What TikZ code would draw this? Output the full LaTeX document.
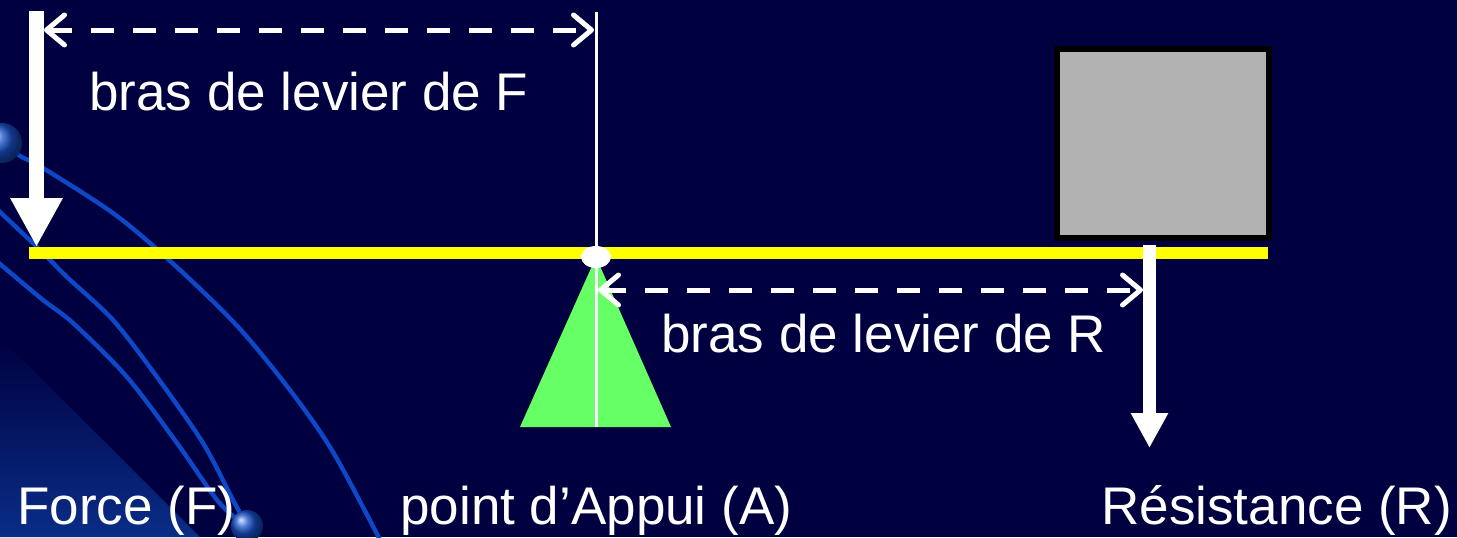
\documentclass[tikz,border=0pt]{standalone}
\usepackage{fontspec}
\setmainfont{Liberation Sans}
\usetikzlibrary{arrows.meta,shapes.geometric}
\definecolor{bg}{RGB}{0,0,64}
\definecolor{curveblue}{RGB}{12,72,200}
\definecolor{beamyellow}{RGB}{255,255,0}
\definecolor{fulcrumgreen}{RGB}{102,255,102}
\definecolor{weightgray}{RGB}{178,178,178}
\definecolor{glow}{RGB}{10,45,135}
\definecolor{ballblue}{RGB}{25,80,200}
\begin{document}
\begin{tikzpicture}[x=0.5pt,y=-0.5pt,
  lbl/.style={text=white,font=\fontsize{26.5pt}{31pt}\selectfont,inner sep=0pt,anchor=base west},
  deco/.style={draw=curveblue,line width=2.2pt},
  forcearrow/.style={draw=white,line width=#1},
  dimarrow/.style={draw=white,line width=2.5pt,dash pattern=on 11.5pt off 9.5pt,
    {Straight Barb[length=9pt,width=15pt,round]}-{Straight Barb[length=9pt,width=15pt,round]}},
]
% background
\fill[bg] (0,0) rectangle (1457,537);
\useasboundingbox (0,0) rectangle (1457,537);
\begin{scope}
\clip (0,0) rectangle (1457,537);
\shade[shading angle=-45,top color=bg,middle color=bg,bottom color=glow] (0,337) -- (200,537) -- (0,537) -- cycle;
\draw[deco] plot[smooth] coordinates {(2,143) (20,156) (43,168) (117,216) (180,270) (240,329) (293,394) (333,452) (377,534) (383,548)};
\draw[deco] plot[smooth] coordinates {(-10,203) (0,212) (37,247) (67,277) (113,320) (157,377) (203,443) (233,500) (244,520)};
\draw[deco] plot[smooth] coordinates {(-10,256) (0,264) (43,300) (73,323) (127,377) (177,443) (217,500) (240,522)};
\shade[ball color=ballblue] (2,143) circle[radius=20];
\shade[ball color=ballblue] (247,526) circle[radius=16];
\end{scope}

% coordinates
\coordinate (beamL) at (29,253);
\coordinate (beamR) at (1268,253);
\coordinate (Ftop) at (36.5,11);
\coordinate (Ftip) at (36.5,247);
\coordinate (Rtop) at (1149.5,245);
\coordinate (Rtip) at (1149.5,448);
\coordinate (vtop) at (596,12);
\coordinate (vbot) at (596,427);
\coordinate (apex) at (596,257);
\coordinate (baseL) at (520,427);
\coordinate (baseR) at (671,427);
\coordinate (dFl) at (44,30);
\coordinate (dFr) at (594,30);
\coordinate (dRl) at (598,290);
\coordinate (dRr) at (1143,290);

% beam
\draw[beamyellow,line width=6pt] (beamL) -- (beamR);
% fulcrum
\fill[fulcrumgreen] (apex) -- (baseR) -- (baseL) -- cycle;
\draw[white,line width=1.5pt] (vtop) -- (vbot);
\node[ellipse,fill=white,minimum width=15pt,minimum height=11pt,inner sep=0pt] (pivot) at (596,257) {};
% weight
\node[draw=black,line width=3pt,fill=weightgray,minimum width=106.25pt,minimum height=94.5pt,inner sep=0pt] (weight) at (1162.75,143.5) {};
% forces
\draw[forcearrow=7.5pt,-{Triangle[width=24.5pt,length=24.5pt]}] (Ftop) -- (Ftip);
\draw[forcearrow=6.5pt,-{Triangle[width=17.5pt,length=17.5pt]}] (Rtop) -- (Rtip);
% lever arms
\draw[dimarrow] (dFl) -- (dFr);
\draw[dimarrow] (dRl) -- (dRr);
% labels
\node[lbl] (armF) at (89,110) {bras de levier de F};
\node[lbl] (armR) at (661,352) {bras de levier de R};
\node[lbl] (force) at (17,524) {Force (F)};
\node[lbl] (appui) at (400,524) {point d’Appui (A)};
\node[lbl] (resist) at (1101,524) {Résistance (R)};
\end{tikzpicture}
\end{document}
